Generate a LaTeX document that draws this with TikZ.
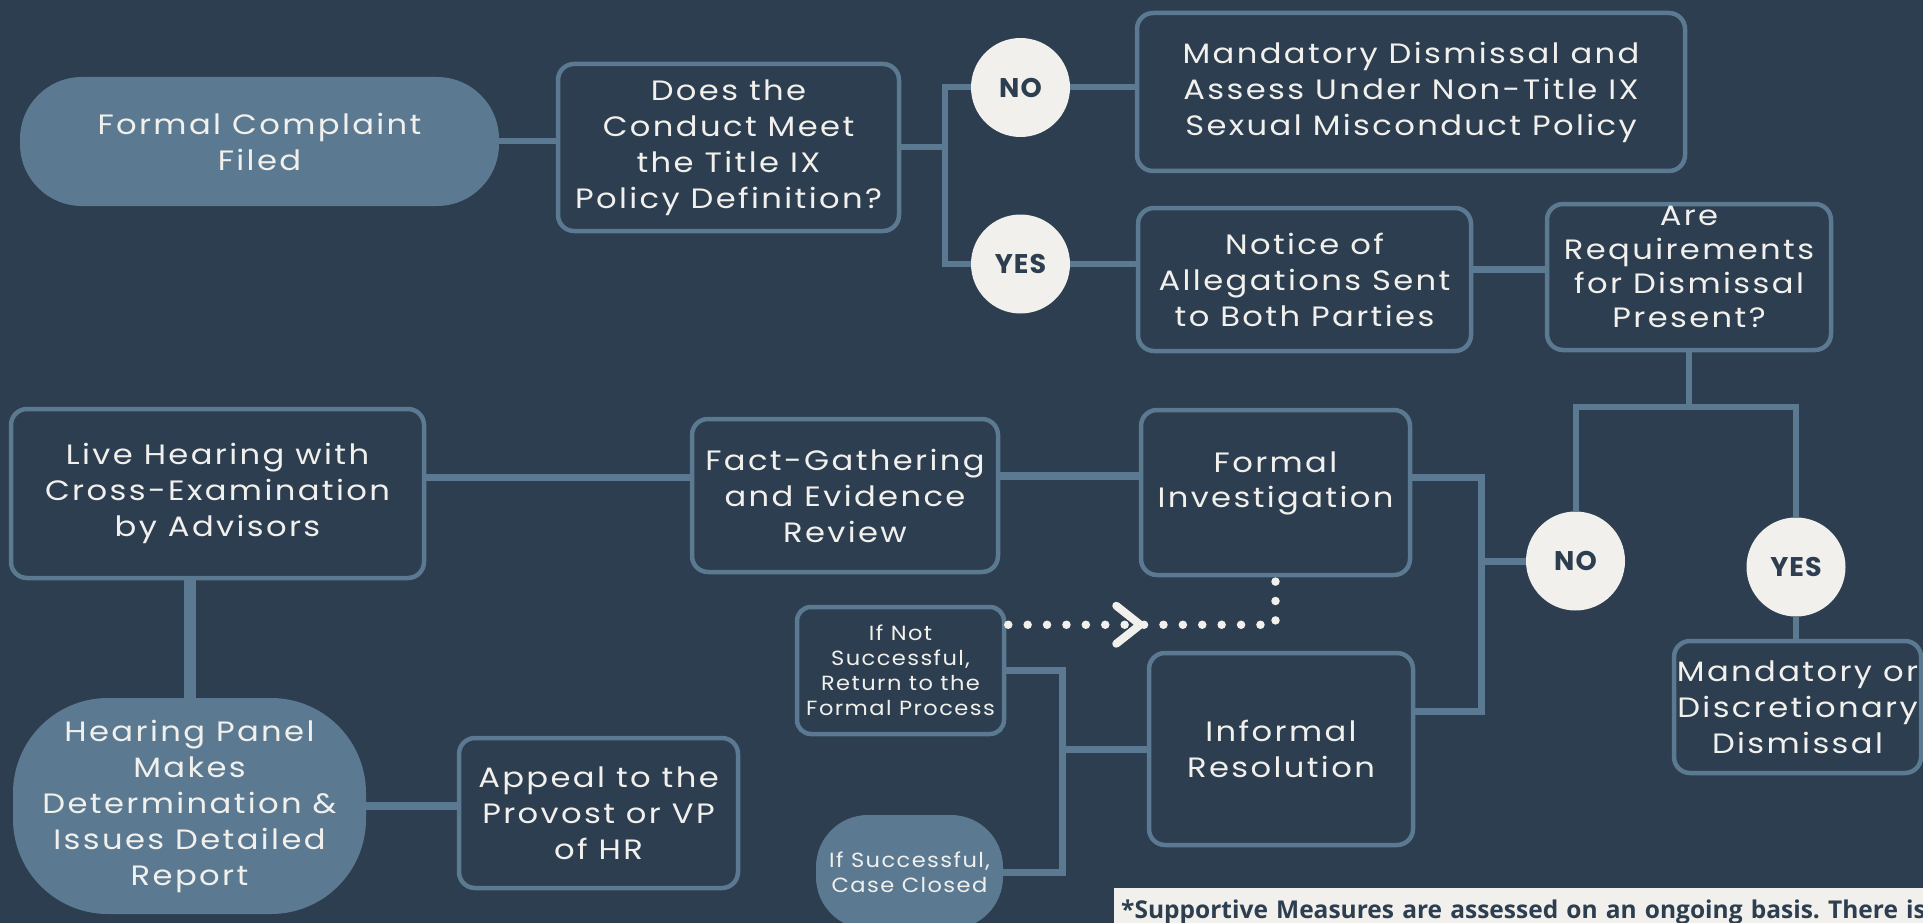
\documentclass[tikz,border=0pt]{standalone}
\usepackage{fontspec}
\setmainfont{Poppins}[FakeStretch=1.15, LetterSpace=8.5]
\newfontfamily\smallfont{Poppins}[FakeStretch=1.1, LetterSpace=7]
\newfontfamily\tagfont{Poppins}[LetterSpace=4]
\newfontfamily\notefont{Open Sans}
\usepackage{xcolor}
\usetikzlibrary{calc}

\definecolor{bgblue}{HTML}{2C3E4F}
\definecolor{steel}{HTML}{5B7A92}
\definecolor{chalk}{HTML}{F1F0EC}

\begin{document}
\frenchspacing
\begin{tikzpicture}[x=1pt, y=-1pt,
    box/.style={draw=steel, line width=4.5pt, rounded corners=16pt, fill=bgblue,
        text=chalk, align=center, inner sep=0pt, font=\fontsize{28}{36}\selectfont},
    boxtext/.style={text=chalk, align=center, font=\fontsize{28}{35}\selectfont},
    pill/.style={fill=steel, text=chalk, align=center, inner sep=0pt,
        font=\fontsize{28}{36}\selectfont},
    answer/.style={circle, fill=chalk, text=bgblue, minimum size=99pt, inner sep=0pt,
        font=\tagfont\bfseries\fontsize{27}{30}\selectfont},
    link/.style={draw=steel, line width=6pt},
    dots/.style={draw=chalk, line width=8.5pt, line cap=round, dash pattern=on 0pt off 19.4pt},
    chevron/.style={draw=chalk, line width=8pt, line cap=round, line join=round}]

    % Page
    \useasboundingbox (0,0) rectangle (1923,923);
    \clip (0,0) rectangle (1923,923);
    \fill[bgblue] (0,0) rectangle (1923,923);

    % Intake
    \node[pill, rounded corners=62pt, minimum width=479pt, minimum height=129pt] (complaint) at (259.5,141.5) {Formal Complaint\\Filed};
    \node[box, minimum width=341pt, minimum height=167pt] (question) at (728.5,147.5) {Does the\\Conduct Meet\\the Title IX\\Policy Definition?};
    \node[answer] (noA) at (1020.5,87.5) {NO};
    \node[answer] (yesA) at (1020.5,264) {YES};
    \node[box, minimum width=548pt, minimum height=158pt] (mandatory) at (1411,92) {Mandatory Dismissal and\\Assess Under Non-Title IX\\Sexual Misconduct Policy};
    \node[box, minimum width=333pt, minimum height=143pt] (notice) at (1304.5,279.5) {Notice of\\Allegations Sent\\to Both Parties};
    \node[box, minimum width=284pt, minimum height=146pt,
        label={[boxtext, font=\fontsize{28}{34}\selectfont, yshift=10pt]center:{Are\\Requirements\\for Dismissal\\Present?}}] (reqs) at (1689,277) {};

    % Dismissal branch
    \node[answer] (noB) at (1575.5,561) {NO};
    \node[answer] (yesB) at (1796,567) {YES};
    \node[box, minimum width=247pt, minimum height=132pt] (dismissal) at (1797.5,707) {Mandatory or\\Discretionary\\Dismissal};

    % Formal and informal tracks
    \node[box, minimum width=269pt, minimum height=165pt,
        label={[boxtext, yshift=9pt]center:{Formal\\Investigation}}] (formal) at (1275.5,492.5) {};
    \node[box, minimum width=264pt, minimum height=192pt] (informal) at (1281,749) {Informal\\Resolution};
    \node[box, minimum width=306pt, minimum height=153pt] (fact) at (845,495.5) {Fact-Gathering\\and Evidence\\Review};
    \node[box, minimum width=413pt, minimum height=169pt] (live) at (217.5,493.5) {Live Hearing with\\Cross-Examination\\by Advisors};
    \node[box, rounded corners=14pt, minimum width=207pt, minimum height=127pt,
        font=\smallfont\fontsize{20.5}{25}\selectfont] (ifnot) at (900.5,670.5) {If Not\\Successful,\\Return to the\\Formal Process};
    \node[pill, rounded corners=52pt, minimum width=187pt, minimum height=114pt,
        font=\smallfont\fontsize{20.5}{25}\selectfont] (ifsucc) at (909.5,872) {If Successful,\\Case Closed};

    % Outcome
    \node[pill, rounded corners=95pt, minimum width=353pt, minimum height=216pt] (hearing) at (189.5,806) {Hearing Panel\\Makes\\Determination \&\\Issues Detailed\\Report};
    \node[box, minimum width=279pt, minimum height=150pt] (appeal) at (598.5,813) {Appeal to the\\Provost or VP\\of HR};

    % Footnote
    \node[fill=chalk, text=bgblue, anchor=north west, minimum height=48pt, inner xsep=7pt,
        text width=800pt, align=left, font=\notefont\bfseries\fontsize{24.5}{28}\selectfont] (note) at (1114,888)
        {\mbox{*Supportive Measures are assessed on an ongoing basis. There is}};

    % Connectors
    \coordinate (fork) at ($(question.east)+(44,0)$);
    \coordinate (split) at ($(reqs.south)+(0,55)$);
    \coordinate (merge) at ($(noB.west)+(-44,0)$);
    \coordinate (join) at ($(informal.west)+(-84,0)$);

    \draw[link] (complaint.east) -- (complaint.east -| question.west);
    \draw[link] (question.east) -- (fork);
    \draw[link] (noA) -| (fork) |- (yesA);
    \draw[link] (noA) -- (noA -| mandatory.west);
    \draw[link] (yesA) -- (yesA -| notice.west);
    \draw[link, line width=7pt] ($(notice.east)+(0,-10)$) -- ($(notice.east -| reqs.west)+(0,-10)$);
    \draw[link] (reqs.south) -- (split);
    \draw[link] (noB) |- (split) -| (yesB);
    \draw[link] (yesB.south) -- (yesB.south |- dismissal.north);
    \draw[link, line width=7pt] ($(formal.east)+(0,-15)$) -| (merge) |- ($(informal.east)+(0,-38)$);
    \draw[link, line width=7pt] (merge) -- (noB);
    \draw[link, line width=8pt] ($(fact.east)+(0,-20)$) -- ($(fact.east -| formal.west)+(0,-20)$);
    \draw[link, line width=7pt] ($(live.east)+(0,-16)$) -- ($(live.east -| fact.west)+(0,-16)$);
    \draw[link, line width=12pt] (hearing.north) -- (hearing.north |- live.south);
    \draw[link, line width=8pt] (hearing.east) -- (hearing.east -| appeal.west);
    \draw[link, line width=7pt] (ifnot.east) -| (join) |- (ifsucc.east);
    \draw[link, line width=7pt] (join) -- (informal.west);

    % Return path
    \coordinate (tip) at ($(ifnot.north east)+(134,20)$);
    \draw[dots] ($(ifnot.north east)+(2,20)$) -| (formal.south);
    \draw[chevron] ($(tip)+(-24,-19)$) -- (tip) -- ($(tip)+(-24,19)$);
\end{tikzpicture}
\end{document}
